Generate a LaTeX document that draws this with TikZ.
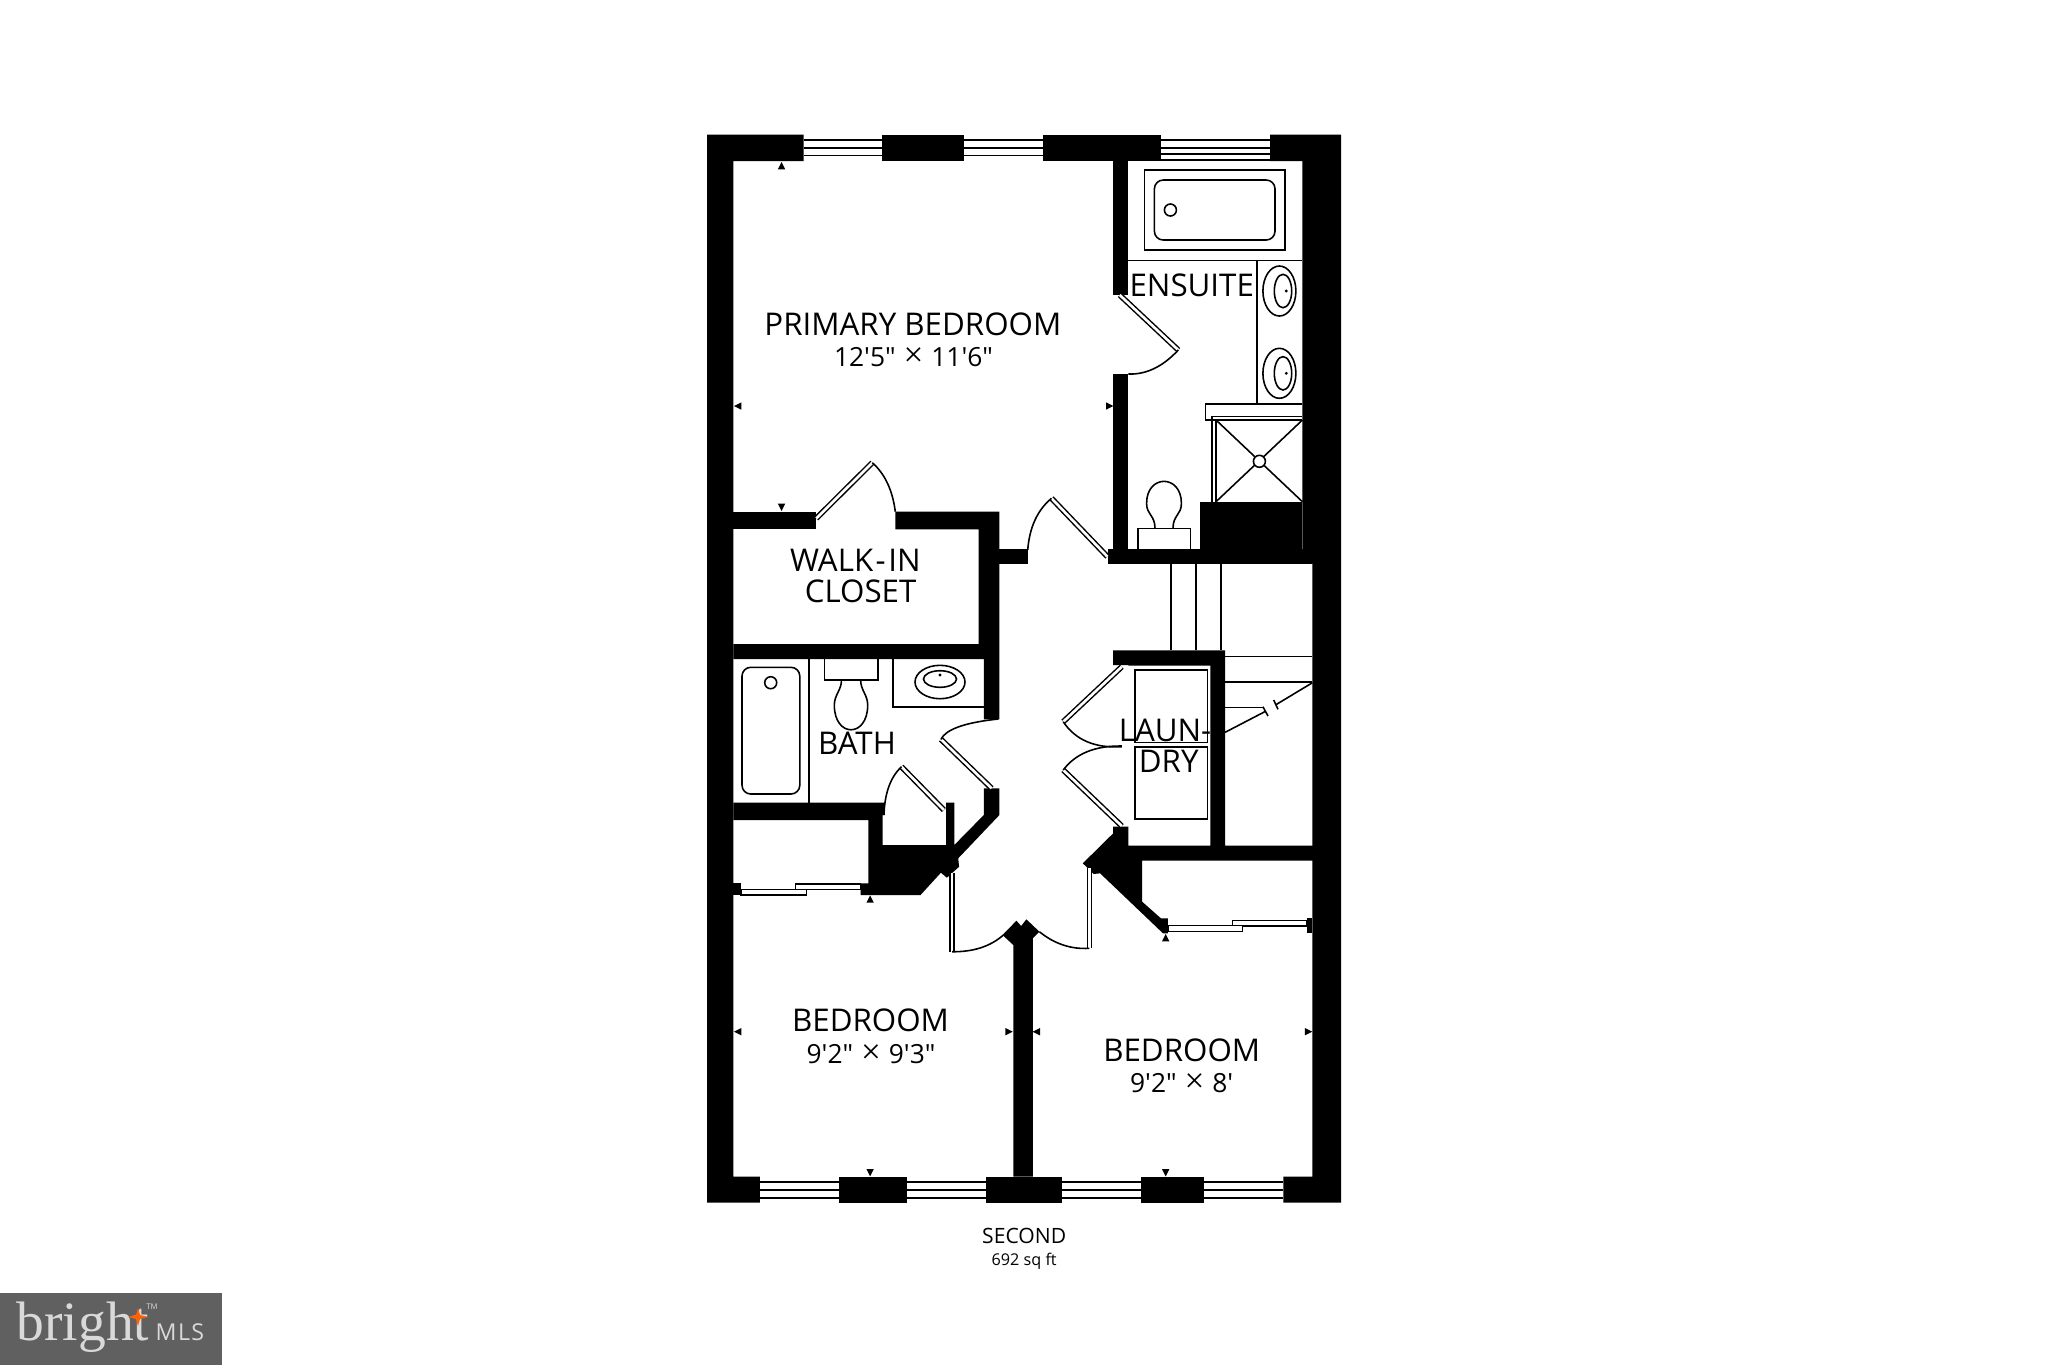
\documentclass[tikz,border=0pt]{standalone}
\usepackage{fontspec}
\usetikzlibrary{calc}
\newfontfamily\planfont{Open Sans}
\newfontfamily\logofont{Liberation Serif}
\newcommand{\by}{\hspace{.3em}{\logofont\fontsize{10}{9}\selectfont ×}\hspace{.3em}}
\tikzset{
	wall/.style={fill=black},
	fine/.style={draw=black,line width=.45pt},
	leaf/.style={draw=black,line width=.42pt,double=white,double distance=.75pt},
	slider/.style={draw=black,fill=white,line width=.42pt},
	room/.style={font=\planfont\fontsize{8.9}{10}\selectfont,inner sep=0pt},
	dims/.style={font=\planfont\fontsize{7.5}{9}\selectfont,inner sep=0pt}
}
\begin{document}
\begin{tikzpicture}[x=0.01cm,y=-0.01cm,line join=miter]
	\useasboundingbox (0,0) rectangle (2048,1365);
	\fill[white] (0,0) rectangle (2048,1365);
	% outer walls
	\fill[wall] (707,134.7) -- (803.7,134.7) -- (803.7,161) -- (733.4,161) -- (733.4,1176.7)
		-- (759.9,1176.7) -- (759.9,1202.7) -- (707,1202.7) -- cycle;
	\fill[wall] (882.3,134.7) rectangle (964.3,161);
	\fill[wall] (1043.3,134.7) rectangle (1160.9,161);
	\fill[wall] (1270,134.7) -- (1341,134.7) -- (1341,1202.7) -- (1283.3,1202.7) -- (1283.3,1176.7)
		-- (1312.4,1176.7) -- (1312.4,563.7) -- (1302.4,563.7) -- (1302.4,161) -- (1270,161) -- cycle;
	\fill[wall] (839.3,1176.7) rectangle (907,1202.7);
	\fill[wall] (986.4,1176.7) rectangle (1062.4,1202.7);
	\fill[wall] (1141.4,1176.7) rectangle (1204.3,1202.7);
	% windows
	\foreach \xa/\xb in {803.7/882.3,964.3/1043.3}
		\foreach \y in {140,147.7,155.3}
			\draw[fine] (\xa,\y) -- (\xb,\y);
	\foreach \y in {140,147.7,154,159.7}
		\draw[fine] (1160.9,\y) -- (1270,\y);
	\foreach \xa/\xb in {759.9/839.3,907/986.4,1062.4/1141.4,1204.3/1283.3}
		\foreach \y in {1182,1190,1197.7}
			\draw[fine] (\xa,\y) -- (\xb,\y);
	% inner walls
	\fill[wall] (1113.2,161) rectangle (1128.4,295);
	\fill[wall] (1113.2,374) rectangle (1128.4,550);
	\fill[wall] (1107.6,549.3) rectangle (1312.4,563.7);
	\fill[wall] (1199.7,501.7) rectangle (1302.4,550);
	\fill[wall] (733.4,511.7) rectangle (816.3,529.3);
	\fill[wall] (895.3,511.7) -- (999.4,511.7) -- (999.4,719.3) -- (983.8,719.3) -- (983.8,659)
		-- (733.4,659) -- (733.4,644) -- (978.6,644) -- (978.6,529.3) -- (895.3,529.3) -- cycle;
	\fill[wall] (999.4,549.3) rectangle (1027.7,563.7);
	\fill[wall] (733.4,802.7) -- (884,802.7) -- (884,815) -- (882.7,815) -- (882.7,845) -- (946.1,845)
		-- (946.1,802.7) -- (954.3,802.7) -- (954.3,845) -- (983.8,815) -- (983.8,788.3) -- (999.4,788.3)
		-- (999.4,815) -- (958.2,858.3) -- (959.1,866.7) -- (946.9,877.7) -- (940.9,872.7) -- (920.5,895)
		-- (860.6,895) -- (860.6,883.3) -- (868.4,883.3) -- (868.4,820) -- (733.4,820) -- cycle;
	\fill[wall] (733.4,883.3) rectangle (741.2,895);
	\fill[wall] (1113.2,650.3) -- (1225.1,650.3) -- (1225.1,845.7) -- (1312.8,845.7) -- (1312.8,860.7)
		-- (1142.2,860.7) -- (1142.2,901.7) -- (1160.9,918.3) -- (1167.8,918.3) -- (1167.8,933.3)
		-- (1163,933.3) -- (1100.1,873.3) -- (1093.6,874) -- (1082.8,863.3) -- (1113.2,833.3)
		-- (1113.2,826.7) -- (1128.4,826.7) -- (1128.4,845.7) -- (1210.3,845.7) -- (1210.3,665.7)
		-- (1128.4,665.7) -- (1128.4,665) -- (1113.2,665) -- cycle;
	\fill[wall] (1307.2,918.3) rectangle (1312.4,933.3);
	\fill[wall] (1002.5,935) -- (1016.4,920.7) -- (1021.1,926) -- (1026.4,919.3) -- (1039.4,931.7)
		-- (1032.9,938.3) -- (1032.9,1176.7) -- (1013.3,1176.7) -- (1013.3,945) -- cycle;
	% sliding doors
	\draw[slider] (795.5,884) rectangle (860.6,889.3);
	\draw[slider] (741.2,889.3) rectangle (806.3,895);
	\draw[slider] (1232.5,920.7) rectangle (1307.2,926);
	\draw[slider] (1167.8,925.3) rectangle (1242.5,931.3);
	% doors and swings
	\foreach \xa/\ya/\xb/\yb/\xc/\yc/\xd/\yd in {
		1119.7/295/1178.3/350/1155/375/1128.4/374,
		816.3/518.3/872.3/462.7/891.2/479.4/895.3/511.7,
		1107.5/556.7/1051.5/498.3/1030.4/515.8/1027.7/550,
		991.6/788.3/940.9/739.3/948.4/724.2/998.3/719,
		943.9/810/901.4/766.7/884.9/782.5/884/815,
		1121.8/666.7/1063.2/721.7/1081.7/749.2/1121.8/746.7,
		1121.8/826/1063.2/770/1081.7/745.4/1121.8/746,
		952.1/873.3/952.1/951.7/983.9/952.1/1003.4/935,
		1089.3/868.3/1089.3/948.3/1062/950/1039.4/931.7}{
		\draw[leaf] (\xa,\ya) -- (\xb,\yb);
		\draw[fine] (\xb,\yb) .. controls ($(\xb,\yb)!.667!(\xc,\yc)$) and ($(\xd,\yd)!.667!(\xc,\yc)$) .. (\xd,\yd);
	}
	% ensuite
	\draw[fine] (1144.4,169.7) rectangle (1285,250);
	\draw[fine,rounded corners=2.5pt] (1154.4,180) rectangle (1275,240);
	\draw[fine] (1170.4,210) circle (6);
	\draw[fine] (1128.4,260.3) -- (1302.4,260.3);
	\draw[fine] (1257.2,260.3) -- (1257.2,403.7);
	\foreach \y in {291,373.3}{
		\draw[fine] (1279.4,\y) ellipse (16.5 and 25);
		\draw[fine] (1283,\y) ellipse (8.7 and 16.7);
		\fill (1286.3,\y) circle (1.6);
	}
	\draw[fine] (1302.4,403.7) -- (1205.6,403.7) -- (1205.6,420) -- (1302.4,420);
	\draw[fine] (1212,501.7) -- (1212,416.5) -- (1302.4,416.5);
	\draw[fine] (1216,501.7) -- (1216,420);
	\draw[fine] (1216,420) -- (1302.4,501.7) (1302.4,420) -- (1216,501.7);
	\fill[white] (1259.4,461.3) circle (6);
	\draw[fine] (1259.4,461.3) circle (6);
	\draw[fine] (1137.9,550) -- (1137.9,528.3) -- (1190.4,528.3) -- (1190.4,550);
	\draw[fine] (1155,528.3) .. controls (1155,515) and (1146.6,515) .. (1146.6,503.3)
		.. controls (1146.6,474) and (1181.4,474) .. (1181.4,503.3)
		.. controls (1181.4,515) and (1173,515) .. (1173,528.3);
	% stairs
	\foreach \x in {1170.9,1196,1221.2}
		\draw[fine] (\x,563.7) -- (\x,650.3);
	\foreach \y in {656.3,682}
		\draw[fine] (1225.1,\y) -- (1312.4,\y);
	\draw[fine] (1225.1,707.3) -- (1263,707.3);
	\draw[fine] (1225.1,732.3) -- (1265.5,711.3);
	\draw[fine] (1262.9,706.7) -- (1268,716) (1273.7,700) -- (1278,709.3);
	\draw[fine] (1275.9,704.7) -- (1312.4,682.7);
	% bath
	\draw[fine] (809,659) -- (809,802.7);
	\draw[fine,rounded corners=2.5pt] (742,667.3) rectangle (799.8,794);
	\draw[fine] (770.7,682.7) circle (6);
	\draw[fine] (824.5,659) -- (824.5,680) -- (877.9,680) -- (877.9,659);
	\draw[fine] (841.5,680) .. controls (841.5,690) and (834.3,695) .. (834.3,705)
		.. controls (834.3,738) and (867.7,738) .. (867.7,705)
		.. controls (867.7,695) and (860.6,690) .. (860.6,680);
	\draw[fine] (893.1,659) -- (893.1,706.7) -- (983.8,706.7);
	\draw[fine] (940,682) ellipse (25 and 16.7);
	\draw[fine] (940,679) ellipse (16.5 and 8.3);
	\fill (940,675) circle (1.6);
	% laundry
	\draw[fine] (1134.9,669.7) rectangle (1207.3,742.3);
	\draw[fine] (1134.9,746.7) rectangle (1207.3,819);
	% little triangles
	\foreach \x/\y/\r in {781.6/165.7/0,781.6/507.3/180,737.7/406/90,1109.7/406/-90,
		870.1/899/0,1165.7/937.7/0,737.7/1031.7/90,1009/1031.7/-90,1036.3/1031.7/90,
		1308.5/1031.7/-90,870.1/1172.7/180,1165.7/1172.7/180}
		\fill[shift={(\x,\y)},rotate=\r] (-3.7,3.7) -- (3.7,3.7) -- (0,-3.7) -- cycle;
	% labels
	\node[room] (primary) at (912.9,324) {PRIMARY BEDROOM};
	\node[dims] (primarydim) at (913.5,357.3) {12'5"\by 11'6"};
	\node[room] (ensuite) at (1191.7,285) {ENSUITE};
	\node[room] (walkin) at (855.4,560) {WALK\kern.08em-\kern.08em IN};
	\node[room] (closet) at (860.6,591.7) {CLOSET};
	\node[room] (bath) at (857,743.3) {BATH};
	\node[room] (laun) at (1165,730) {LAUN-};
	\node[room] (dry) at (1168.7,761.7) {DRY};
	\node[room] (bedone) at (870.5,1020) {BEDROOM};
	\node[dims] (bedonedim) at (871,1054) {9'2"\by 9'3"};
	\node[room] (bedtwo) at (1181.7,1050) {BEDROOM};
	\node[dims] (bedtwodim) at (1181.7,1083.3) {9'2"\by 8'};
	\node[font=\planfont\fontsize{6}{7}\selectfont,inner sep=0pt] (floor) at (1024.2,1235.7) {SECOND};
	\node[font=\planfont\fontsize{4.6}{6}\selectfont,inner sep=0pt] (area) at (1024.2,1261.7) {692 sq ft};
	% logo
	\fill[gray!75!black] (0,1292.5) rectangle (222,1365);
	\node[anchor=base west,inner sep=0pt,text=black!15,font=\logofont\fontsize{15.8}{16}\selectfont] (bright) at (16,1340) {bright};
	\fill[orange!75!red] (138,1308) -- (140,1315) -- (148,1317) -- (140,1319) -- (138,1326) -- (136,1319) -- (128,1317) -- (136,1315) -- cycle;
	\node[anchor=base west,inner sep=0pt,text=black!15,font=\planfont\fontsize{6.6}{7}\selectfont\addfontfeature{LetterSpace=6}] (mls) at (155,1340) {MLS};
	\node[inner sep=0pt,text=black!15,font=\planfont\fontsize{2.2}{3}\selectfont] (tm) at (152,1307) {TM};
\end{tikzpicture}
\end{document}
